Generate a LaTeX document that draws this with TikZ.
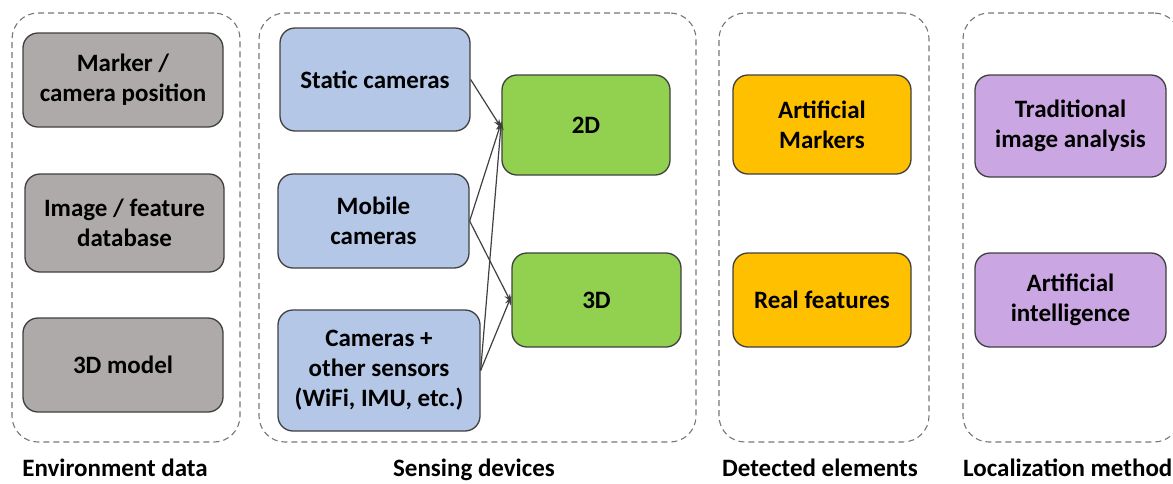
\documentclass[tikz,border=0pt]{standalone}
\usepackage{fontspec}
\setmainfont{Carlito}
\usepackage{xcolor}
\usetikzlibrary{arrows.meta,positioning}
\definecolor{envfill}{RGB}{174,170,170}
\definecolor{sensefill}{RGB}{180,199,231}
\definecolor{dimfill}{RGB}{146,208,80}
\definecolor{detfill}{RGB}{255,192,0}
\definecolor{locfill}{RGB}{202,166,226}
\definecolor{edgegray}{RGB}{64,64,64}
\definecolor{framegray}{RGB}{118,118,118}
\tikzset{
  box/.style={
    draw=edgegray,
    line width=1.3pt,
    rounded corners=15pt,
    align=center,
    inner sep=2pt,
    font=\fontsize{25}{30}\selectfont\bfseries
  },
  envbox/.style={box, fill=envfill},
  sensebox/.style={box, fill=sensefill},
  dimbox/.style={box, fill=dimfill},
  detbox/.style={box, fill=detfill},
  locbox/.style={box, fill=locfill},
  frame/.style={draw=framegray, line width=1.1pt, dash pattern=on 6pt off 4pt,
    rounded corners=26pt, minimum height=429pt},
  caption/.style={font=\fontsize{25}{30}\selectfont\bfseries, inner sep=0pt,
    anchor=base},
  link/.style={-{Stealth[length=9pt,width=6pt]}, draw=edgegray, line width=1.2pt}
}
\begin{document}
\begin{tikzpicture}[x=1pt, y=-1pt]
    \useasboundingbox (0,0) rectangle (1173,483);

    % dashed groups
    \node[frame, minimum width=228pt] (envgrp) at (126,227.5) {};
    \node[frame, minimum width=437pt] (sensegrp) at (477.5,227.5) {};
    \node[frame, minimum width=210pt] (detgrp) at (824,227.5) {};
    \node[frame, minimum width=217pt] (locgrp) at (1071.5,227.5) {};

    % environment data
    \node[envbox, minimum width=200pt, minimum height=94pt] (marker) at (123,80)
      {Marker /\\camera position};
    \node[envbox, minimum width=199pt, minimum height=98pt] (featdb) at (124.5,223)
      {Image / feature\\database};
    \node[envbox, minimum width=200pt, minimum height=94pt] (model) at (123,365)
      {3D model};

    % sensing devices
    \node[sensebox, minimum width=190pt, minimum height=103pt] (static) at (375,79.5)
      {Static cameras};
    \node[sensebox, minimum width=191pt, minimum height=94pt] (mobile) at (373.5,221)
      {Mobile\\cameras};
    \node[sensebox, minimum width=202pt, minimum height=121pt] (sensors) at (379,370.5)
      {Cameras +\\other sensors\\(WiFi, IMU, etc.)};
    \node[dimbox, minimum width=168pt, minimum height=100pt] (twod) at (586,125)
      {2D};
    \node[dimbox, minimum width=169pt, minimum height=94pt] (threed) at (596.5,300)
      {3D};

    % detected elements
    \node[detbox, minimum width=178pt, minimum height=99pt] (artmark) at (822,124.5)
      {Artificial\\Markers};
    \node[detbox, minimum width=178pt, minimum height=94pt] (realfeat) at (822,300)
      {Real features};

    % localization method
    \node[locbox, minimum width=191pt, minimum height=102pt] (tradimg) at (1070.5,126)
      {Traditional\\image analysis};
    \node[locbox, minimum width=191pt, minimum height=94pt] (artint) at (1070.5,300)
      {Artificial\\intelligence};

    \draw[link] (static.east) -- ([yshift=-3pt]twod.west);
    \draw[link] (mobile.east) -- ([yshift=3pt]twod.west);
    \draw[link] (sensors.east) -- ([yshift=4pt]twod.west);
    \draw[link] (mobile.east) -- ([yshift=-3pt]threed.west);
    \draw[link] (sensors.east) -- ([yshift=4pt]threed.west);

    \node[caption] (envcap) at (115,476) {Environment data};
    \node[caption] (sensecap) at (474,476) {Sensing devices};
    \node[caption] (detcap) at (820,476) {Detected elements};
    \node[caption, anchor=base west] (loccap) at (963,476) {Localization method};
\end{tikzpicture}
\end{document}
